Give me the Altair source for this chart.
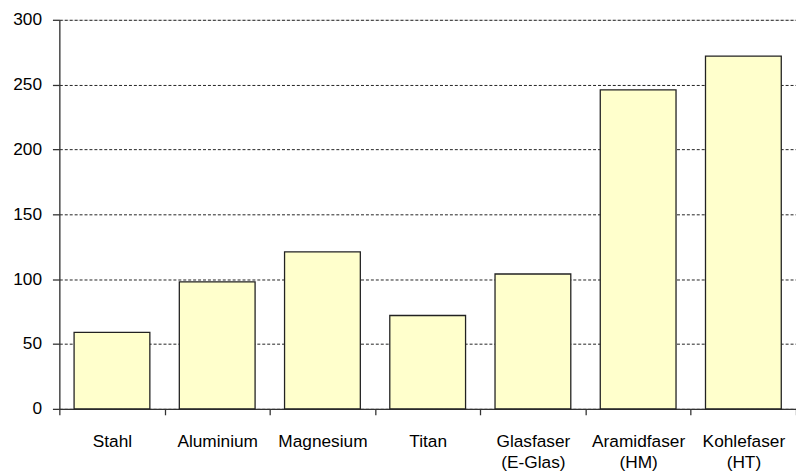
import altair as alt
import pandas as pd

categories = ["Stahl", "Aluminium", "Magnesium", "Titan",
              "Glasfaser\n(E-Glas)", "Aramidfaser\n(HM)", "Kohlefaser\n(HT)"]
values = [59, 98, 121, 72, 104, 246, 272]
y_ticks = [0, 50, 100, 150, 200, 250, 300]

df = pd.DataFrame({"Material": categories, "Wert": values})

font = "Liberation Sans"

chart = alt.Chart(df).mark_bar(
    fill="#FFFFCC", stroke="#222222", strokeWidth=1.3,
    width=alt.RelativeBandSize(0.72)
).encode(
    x=alt.X("Material:N", sort=None, title=None,
            scale=alt.Scale(paddingInner=0, paddingOuter=0),
            axis=alt.Axis(labelAngle=0, grid=False, tickBand="extent",
                          labelExpr="split(datum.label, '\\n')",
                          labelFont=font, labelFontSize=17.5, labelColor="#000000",
                          labelPadding=18, labelLineHeight=21,
                          tickSize=6, tickColor="#333333", domainColor="#333333",
                          domainWidth=1.3, tickWidth=1.3, labelBaseline="top")),
    y=alt.Y("Wert:Q", title=None,
            scale=alt.Scale(domain=[0, 300], nice=False),
            axis=alt.Axis(values=y_ticks, grid=True, gridColor="#222222",
                          gridDash=[3, 2], gridWidth=1,
                          labelFont=font, labelFontSize=17.5, labelColor="#000000",
                          labelPadding=11, tickSize=7, tickColor="#333333",
                          labelBaseline="middle",
                          domainColor="#333333", domainWidth=1.3, tickWidth=1.3)),
).properties(
    width=746, height=394,
    autosize=alt.AutoSizeParams(type="none"),
    padding={"left": 52, "top": 9, "right": 0, "bottom": 62},
).configure_view(stroke=None).configure(background="white")

chart.save("out.html", embed_options={"renderer": "svg", "actions": False})
